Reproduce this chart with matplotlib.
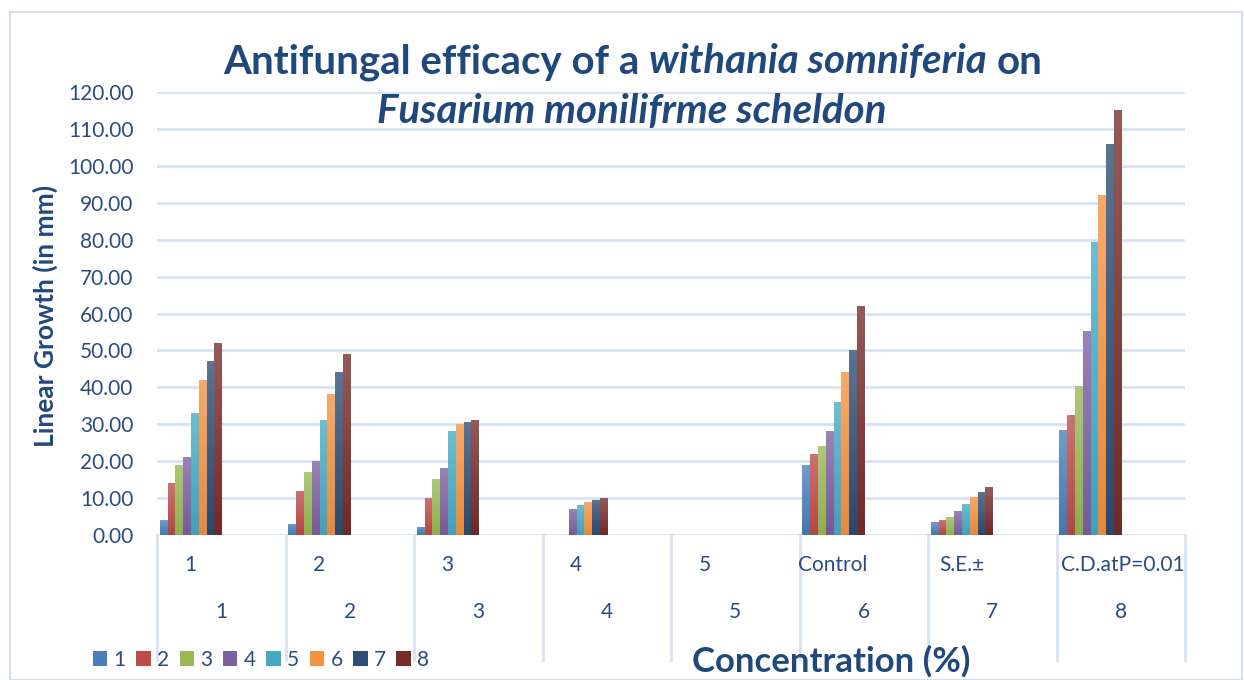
import matplotlib
matplotlib.use('Agg')
import matplotlib.pyplot as plt
import matplotlib.transforms as mtransforms
from matplotlib.patches import Rectangle
from matplotlib.lines import Line2D
from matplotlib.colors import to_rgb
import numpy as np

plt.rcParams['font.family'] = ['Lato', 'DejaVu Sans']

categories_top = ["1", "2", "3", "4", "5", "Control", "S.E.\u00b1", "C.D.atP=0.01"]
categories_bottom = ["1", "2", "3", "4", "5", "6", "7", "8"]
series_names = ["1", "2", "3", "4", "5", "6", "7", "8"]

s1 = [4.0, 3.0, 2.2, 0.0, 0.0, 19.0, 3.5, 28.4]
s2 = [14.0, 12.0, 10.0, 0.0, 0.0, 22.0, 4.0, 32.5]
s3 = [19.0, 17.0, 15.2, 0.0, 0.0, 24.0, 4.9, 40.4]
s4 = [21.0, 20.0, 18.2, 7.0, 0.0, 28.2, 6.5, 55.3]
s5 = [33.0, 31.2, 28.2, 8.1, 0.0, 36.0, 8.4, 79.4]
s6 = [42.0, 38.2, 30.0, 8.9, 0.0, 44.2, 10.3, 92.1]
s7 = [47.0, 44.2, 30.6, 9.5, 0.0, 50.1, 11.7, 106.0]
s8 = [52.0, 49.0, 31.2, 10.0, 0.0, 62.0, 13.0, 115.2]
series_values = [s1, s2, s3, s4, s5, s6, s7, s8]

colors = ['#4A7EBB', '#BE4B48', '#98B954', '#7D60A0', '#46AAC5', '#F69240', '#2C4D75', '#772C2A']
navy = '#1F497D'
tick_col = '#2B4C7E'
grid_col = '#D7E2F3'

W, H = 1244, 680
fig = plt.figure(figsize=(W / 100, H / 100), dpi=100)
fig.patch.set_facecolor('white')

# outer chart border
fig.patches.append(Rectangle((10 / W, 0.0), (W - 12) / W, (H - 12) / H, transform=fig.transFigure,
                             fill=False, edgecolor='#D6DEEA', lw=1.5))

ax = fig.add_axes([157 / W, 1 - 535 / H, (1185 - 157) / W, (535 - 92) / H])
ax.set_xlim(0, len(categories_top))
ax.set_ylim(0, 120)
ax.set_yticks(np.arange(0, 121, 10))
ax.set_yticklabels([f"{v:.2f}" for v in np.arange(0, 121, 10)], fontsize=15, color=tick_col)
ax.tick_params(axis='y', length=0, pad=17)
ax.set_xticks([])
for sp in ax.spines.values():
    sp.set_visible(False)
ax.yaxis.grid(True, color=grid_col, lw=2)
ax.set_axisbelow(True)

offset0 = 0.023
pitch = 0.0604
bw = 0.055
x = np.arange(len(categories_top))
handles = []


def mix(c, other, t):
    c = np.array(to_rgb(c))
    o = np.array(to_rgb(other))
    return c * (1 - t) + o * t


for k, (name, vals) in enumerate(zip(series_names, series_values)):
    b = ax.bar(x + offset0 + k * pitch, vals, width=bw, align='edge', color=colors[k],
               label=name, zorder=3)
    handles.append(b)
    top = mix(colors[k], 'white', 0.22)
    bot = mix(colors[k], 'black', 0.06)
    grad = np.linspace(0, 1, 64)[:, None, None]
    img = top[None, None, :] * (1 - grad) + bot[None, None, :] * grad
    for p in b.patches:
        h = p.get_height()
        if h <= 0:
            continue
        im = ax.imshow(img, extent=(p.get_x(), p.get_x() + p.get_width(), 0, h),
                       aspect='auto', zorder=4, interpolation='bilinear', origin='upper')
        im.set_clip_path(p)

ax.set_xlim(0, len(categories_top))
ax.set_ylim(0, 120)

# category separator lines below the axis
trans = mtransforms.blended_transform_factory(ax.transData, ax.transAxes)
for i in range(len(categories_top) + 1):
    ax.add_line(Line2D([i, i], [0, -125 / 443], transform=trans, color=grid_col, lw=2,
                       clip_on=False))

# two-level category labels
n = len(categories_top)
for i, lab in enumerate(categories_top):
    if i == n - 1:
        ax.text(i + 1, -30 / 443, lab, transform=trans, ha='right', va='center',
                fontsize=15, color=tick_col)
    else:
        ax.text(i + 0.26, -30 / 443, lab, transform=trans, ha='center', va='center',
                fontsize=15, color=tick_col)
for i, lab in enumerate(categories_bottom):
    ax.text(i + 0.5, -77 / 443, lab, transform=trans, ha='center', va='center',
            fontsize=15, color=tick_col)

# axis titles
fig.text(45 / W, 1 - 316 / H, "Linear Growth (in mm)", rotation=90, ha='center', va='center',
         fontsize=19, fontweight='bold', color=navy)
fig.text(831 / W, 1 - 661 / H, "Concentration (%)", ha='center', va='center',
         fontsize=25, fontweight='bold', color=navy)

# legend
fig.legend(handles=handles, labels=series_names, loc='center left',
           bbox_to_anchor=(74 / W, 1 - 660 / H), ncol=8, frameon=False, fontsize=15,
           handlelength=0.7, handleheight=0.7, handletextpad=0.3, columnspacing=0.5,
           labelcolor=tick_col)

# title with mixed italics
title_size = 29
renderer = fig.canvas.get_renderer()


def width_of(s, style):
    t = fig.text(0, 0, s, fontsize=title_size, fontweight='bold', style=style)
    w = t.get_window_extent(renderer).width
    t.remove()
    return w


def place_line(segments, cx, cy):
    sp_w = width_of("a a", 'normal') - width_of("aa", 'normal')
    widths = [width_of(s, st) for s, st in segments]
    total = sum(widths) + sp_w * (len(segments) - 1)
    xpos = cx - total / 2
    for (s, st), w in zip(segments, widths):
        fig.text(xpos / W, 1 - cy / H, s, fontsize=title_size, fontweight='bold', style=st,
                 color=navy, ha='left', va='center')
        xpos += w + sp_w


place_line([("Antifungal efficacy of a", 'normal'), ("withania somniferia", 'italic'),
            ("on", 'normal')], 633, 62)
place_line([("Fusarium monilifrme scheldon", 'italic')], 632, 112)

fig.savefig('out.png', dpi=100, facecolor='white')
